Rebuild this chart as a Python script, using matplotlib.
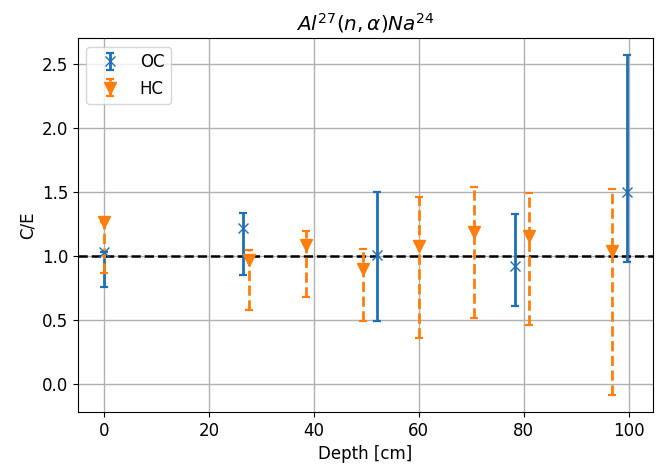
import matplotlib
matplotlib.use("Agg")
import matplotlib.pyplot as plt
import numpy as np

# OC data (depth, C/E, lower / upper error)
oc_depth = [0.0, 26.4, 52.0, 78.3, 99.6]
oc_ce = [1.03, 1.22, 1.01, 0.92, 1.50]
oc_err_lo = [0.27, 0.37, 0.515, 0.31, 0.545]
oc_err_hi = [0.0, 0.115, 0.49, 0.41, 1.07]

# HC data
hc_depth = [0.0, 27.7, 38.4, 49.3, 60.0, 70.5, 81.0, 96.9]
hc_ce = [1.27, 0.97, 1.09, 0.90, 1.08, 1.185, 1.155, 1.04]
hc_err_lo = [0.40, 0.39, 0.41, 0.405, 0.72, 0.665, 0.695, 1.125]
hc_err_hi = [0.0, 0.077, 0.11, 0.155, 0.385, 0.355, 0.337, 0.483]

plt.rcParams['font.size'] = 12

fig = plt.figure(figsize=(6.64, 4.67), dpi=100)
ax = fig.add_subplot(111)
fig.subplots_adjust(left=0.1175, right=0.983, top=0.918, bottom=0.118)

ax.axhline(1.0, color='black', linestyle='--', linewidth=1.8, zorder=1)

ax.errorbar(oc_depth, oc_ce, yerr=[oc_err_lo, oc_err_hi], fmt='x',
            color='#1f6fb4', markersize=7, elinewidth=2, capsize=2.8,
            capthick=1.6, label='OC', zorder=3)
eb = ax.errorbar(hc_depth, hc_ce, yerr=[hc_err_lo, hc_err_hi], fmt='v',
                 color='#ff7f0e', markersize=8, elinewidth=2, capsize=2.8,
                 capthick=1.6, label='HC', zorder=3)
eb[-1][0].set_linestyle('--')

ax.grid(True, color='#b0b0b0', linewidth=1.0)
ax.set_axisbelow(True)
ax.set_xlabel('Depth [cm]')
ax.set_ylabel('C/E')
ax.set_title(r'$Al^{27}(n,\alpha)Na^{24}$')
ax.set_yticks(np.arange(0, 2.51, 0.5))
ax.legend(loc='upper left')

fig.savefig('out.png', dpi=100)
